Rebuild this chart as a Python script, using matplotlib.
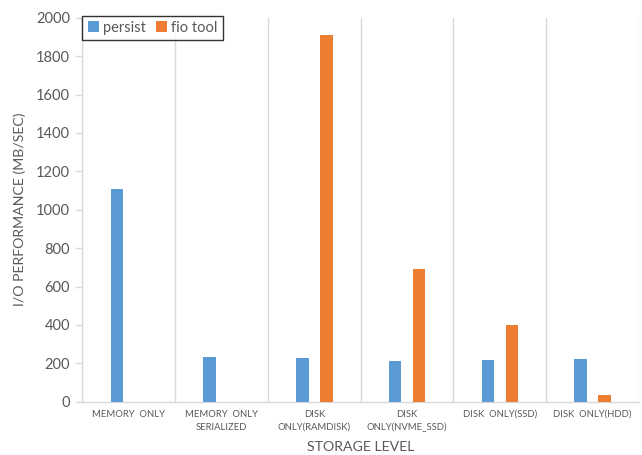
import numpy as np
import matplotlib
matplotlib.use("Agg")
import matplotlib.pyplot as plt

plt.rcParams['font.family'] = ['Lato', 'DejaVu Sans']

categories = ["MEMORY  ONLY", "MEMORY  ONLY\nSERIALIZED", "DISK\nONLY(RAMDISK)",
              "DISK\nONLY(NVME_SSD)", "DISK  ONLY(SSD)", "DISK  ONLY(HDD)"]
persist = [1110, 233, 229, 213, 217, 222]
fio_tool = [0, 0, 1910, 691, 400, 33]
series_names = ["persist", "fio tool"]
yticks = [0, 200, 400, 600, 800, 1000, 1200, 1400, 1600, 1800, 2000]

blue = "#5B9BD5"
orange = "#ED7D31"
grey_text = "#595959"
grid_grey = "#D9D9D9"

fig = plt.figure(figsize=(6.42, 4.55), dpi=100)
ax = fig.add_axes([0.1285, 0.1171, 0.8668, 0.8440])

x = np.arange(len(categories))
w = 0.135
off = 0.13
ax.bar(x - off, persist, width=w, color=blue, label=series_names[0], zorder=3)
ax.bar(x + off, fio_tool, width=w, color=orange, label=series_names[1], zorder=3)

ax.set_xlim(-0.5, len(categories) - 0.5)
ax.set_ylim(0, 2000)
ax.set_yticks(yticks)
ax.set_yticklabels([str(v) for v in yticks], fontsize=10.5, color=grey_text)

# category separators
for b in np.arange(-0.5, len(categories), 1.0):
    ax.axvline(b, color=grid_grey, lw=1.0, zorder=1)

ax.set_xticks(x)
ax.set_xticklabels(categories, fontsize=6.8, color=grey_text, linespacing=1.55)
ax.tick_params(axis='x', length=0, pad=6)
ax.tick_params(axis='y', length=5, color=grid_grey, width=1.0, pad=4)

for s in ["top", "right"]:
    ax.spines[s].set_visible(False)
for s in ["left", "bottom"]:
    ax.spines[s].set_color(grid_grey)
    ax.spines[s].set_linewidth(1.0)

ax.set_ylabel("I/O PERFORMANCE (MB/SEC)", fontsize=10.2, color=grey_text, labelpad=7)
ax.set_xlabel("STORAGE LEVEL", fontsize=10.2, color=grey_text, labelpad=6)

leg = ax.legend(loc="upper left", bbox_to_anchor=(0.0, 1.005), ncol=2, frameon=True,
                fancybox=False, edgecolor="black", fontsize=10.5,
                handlelength=0.75, handleheight=0.75, handletextpad=0.3,
                columnspacing=0.7, borderpad=0.35, borderaxespad=0.0)
leg.get_frame().set_linewidth(1.0)
for t in leg.get_texts():
    t.set_color(grey_text)

fig.savefig("out.png", dpi=100)
